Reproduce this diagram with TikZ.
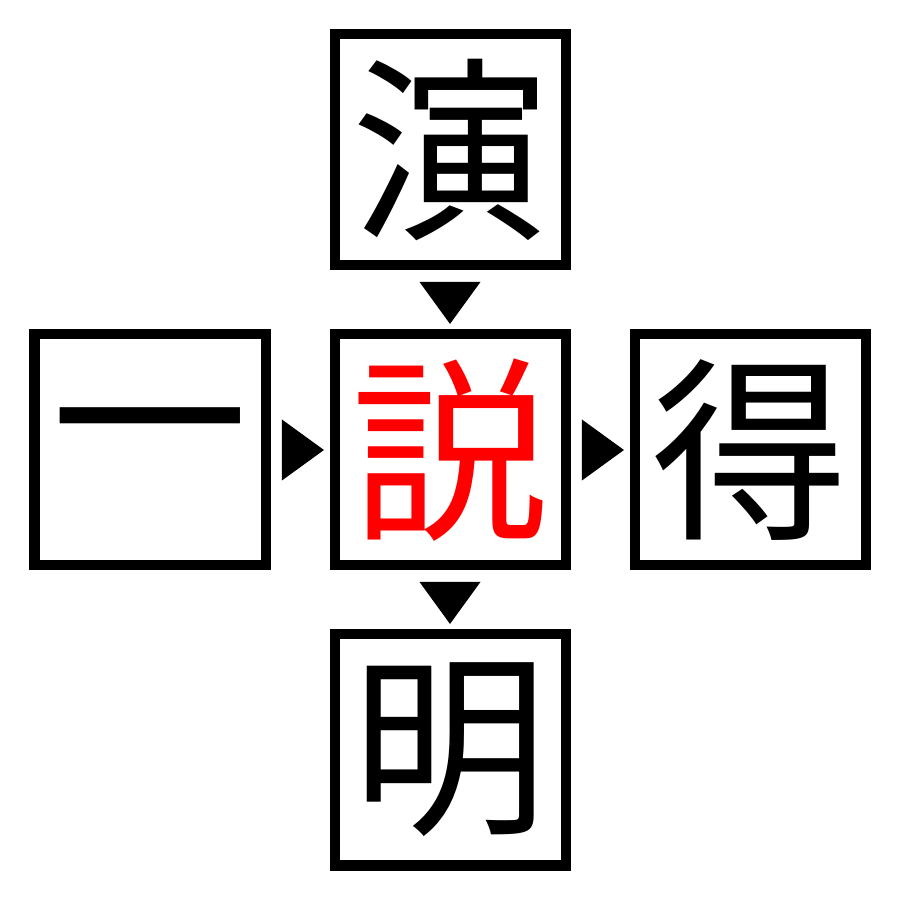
\documentclass[tikz,border=0pt]{standalone}
\usepackage{fontspec}
\newfontfamily\cjk{Noto Sans CJK JP}
\usetikzlibrary{positioning,calc}

\begin{document}
\begin{tikzpicture}
\useasboundingbox (0,0) rectangle (9,9);
\begin{scope}[node distance=0.59cm, every node/.style={draw, line width=0.1cm, minimum size=2.31cm, inner sep=0pt, font=\cjk\fontsize{56}{56}\selectfont}]
\node [anchor=center] (shuo) at (4.5,4.5) {\textcolor{red}{説}};
\node [above=of shuo] (yan) {演};
\node [left=of shuo] (yi) {一};
\node [right=of shuo] (de) {得};
\node [below=of shuo] (ming) {明};
\end{scope}
%% markers between the boxes
\coordinate (ArrTop) at ($(yan.south)!0.55!(shuo.north)$);
\coordinate (ArrBot) at ($(shuo.south)!0.55!(ming.north)$);
\coordinate (ArrLeft) at ($(yi.east)!0.55!(shuo.west)$);
\coordinate (ArrRight) at ($(shuo.east)!0.55!(de.west)$);
\fill (ArrTop) ++(-0.305,0.21) -- ++(0.61,0) -- ++(-0.305,-0.42) -- cycle;
\fill (ArrBot) ++(-0.305,0.21) -- ++(0.61,0) -- ++(-0.305,-0.42) -- cycle;
\fill (ArrLeft) ++(-0.21,0.305) -- ++(0,-0.61) -- ++(0.42,0.305) -- cycle;
\fill (ArrRight) ++(-0.21,0.305) -- ++(0,-0.61) -- ++(0.42,0.305) -- cycle;
\end{tikzpicture}
\end{document}
